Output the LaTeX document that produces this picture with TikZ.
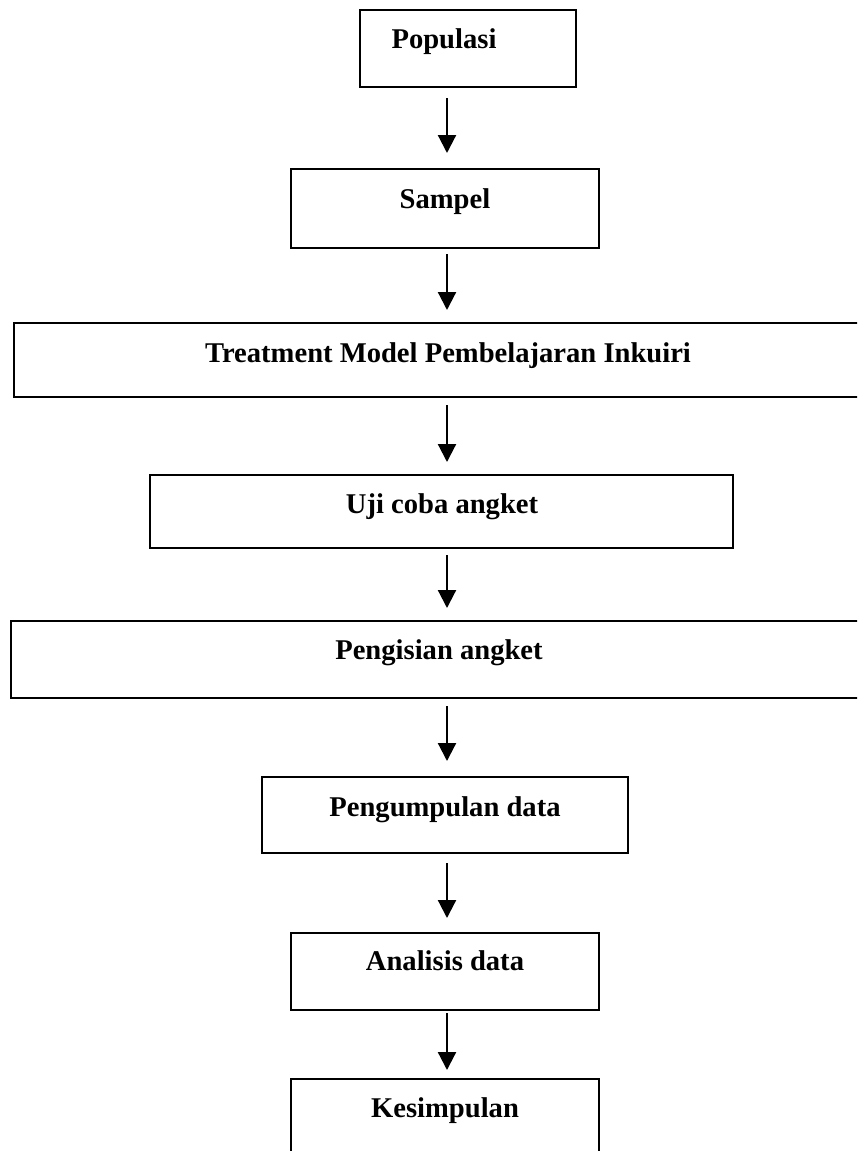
\documentclass[tikz,border=0pt]{standalone}
\usepackage{fontspec}
\setmainfont{Liberation Serif}
\usetikzlibrary{arrows.meta}
\tikzset{
  box/.style={draw=black, line width=2pt, fill=none},
  lbl/.style={anchor=base, inner sep=0pt, font=\fontsize{28.6}{34}\selectfont\bfseries},
  arr/.style={line width=2.2pt, -{Triangle[width=18pt,length=18pt]}},
}
\begin{document}
\begin{tikzpicture}[x=1pt,y=-1pt]
\useasboundingbox (0,0) rectangle (857,1151);
\clip (0,0) rectangle (857,1151);
% boxes
\draw[box] (360,10) rectangle (576,87) node[pos=0.5] (b1) {};
\draw[box] (291,169) rectangle (599,248) node[pos=0.5] (b2) {};
\draw[box] (14,323) rectangle (875,397) node[pos=0.5] (b3) {};
\draw[box] (150,475) rectangle (733,548) node[pos=0.5] (b4) {};
\draw[box] (11,621) rectangle (875,698) node[pos=0.5] (b5) {};
\draw[box] (262,777) rectangle (628,853) node[pos=0.5] (b6) {};
\draw[box] (291,933) rectangle (599,1010) node[pos=0.5] (b7) {};
\draw[box] (291,1079) rectangle (599,1175) node[pos=0.5] (b8) {};
% box edges as coordinates on the arrow column
\coordinate (b1s) at (447,87);   \coordinate (b2n) at (447,169);
\coordinate (b2s) at (447,248);  \coordinate (b3n) at (447,323);
\coordinate (b3s) at (447,397);  \coordinate (b4n) at (447,475);
\coordinate (b4s) at (447,548);  \coordinate (b5n) at (447,621);
\coordinate (b5s) at (447,698);  \coordinate (b6n) at (447,777);
\coordinate (b6s) at (447,853);  \coordinate (b7n) at (447,933);
\coordinate (b7s) at (447,1010); \coordinate (b8n) at (447,1079);
% labels
\node[lbl] (t1) at (444,48) {Populasi};
\node[lbl] (t2) at (445,208) {Sampel};
\node[lbl] (t3) at (448,362) {Treatment Model Pembelajaran Inkuiri};
\node[lbl] (t4) at (442,513) {Uji coba angket};
\node[lbl] (t5) at (439,659) {Pengisian angket};
\node[lbl] (t6) at (445,816) {Pengumpulan data};
\node[lbl] (t7) at (445,970) {Analisis data};
\node[lbl] (t8) at (445,1117) {Kesimpulan};
% arrows
\draw[arr, shorten <=11pt, shorten >=16pt] (b1s) -- (b2n);
\draw[arr, shorten <=6pt, shorten >=13pt] (b2s) -- (b3n);
\draw[arr, shorten <=8pt, shorten >=13pt] (b3s) -- (b4n);
\draw[arr, shorten <=7pt, shorten >=13pt] (b4s) -- (b5n);
\draw[arr, shorten <=8pt, shorten >=16pt] (b5s) -- (b6n);
\draw[arr, shorten <=10pt, shorten >=15pt] (b6s) -- (b7n);
\draw[arr, shorten <=3pt, shorten >=9pt] (b7s) -- (b8n);
\end{tikzpicture}
\end{document}
